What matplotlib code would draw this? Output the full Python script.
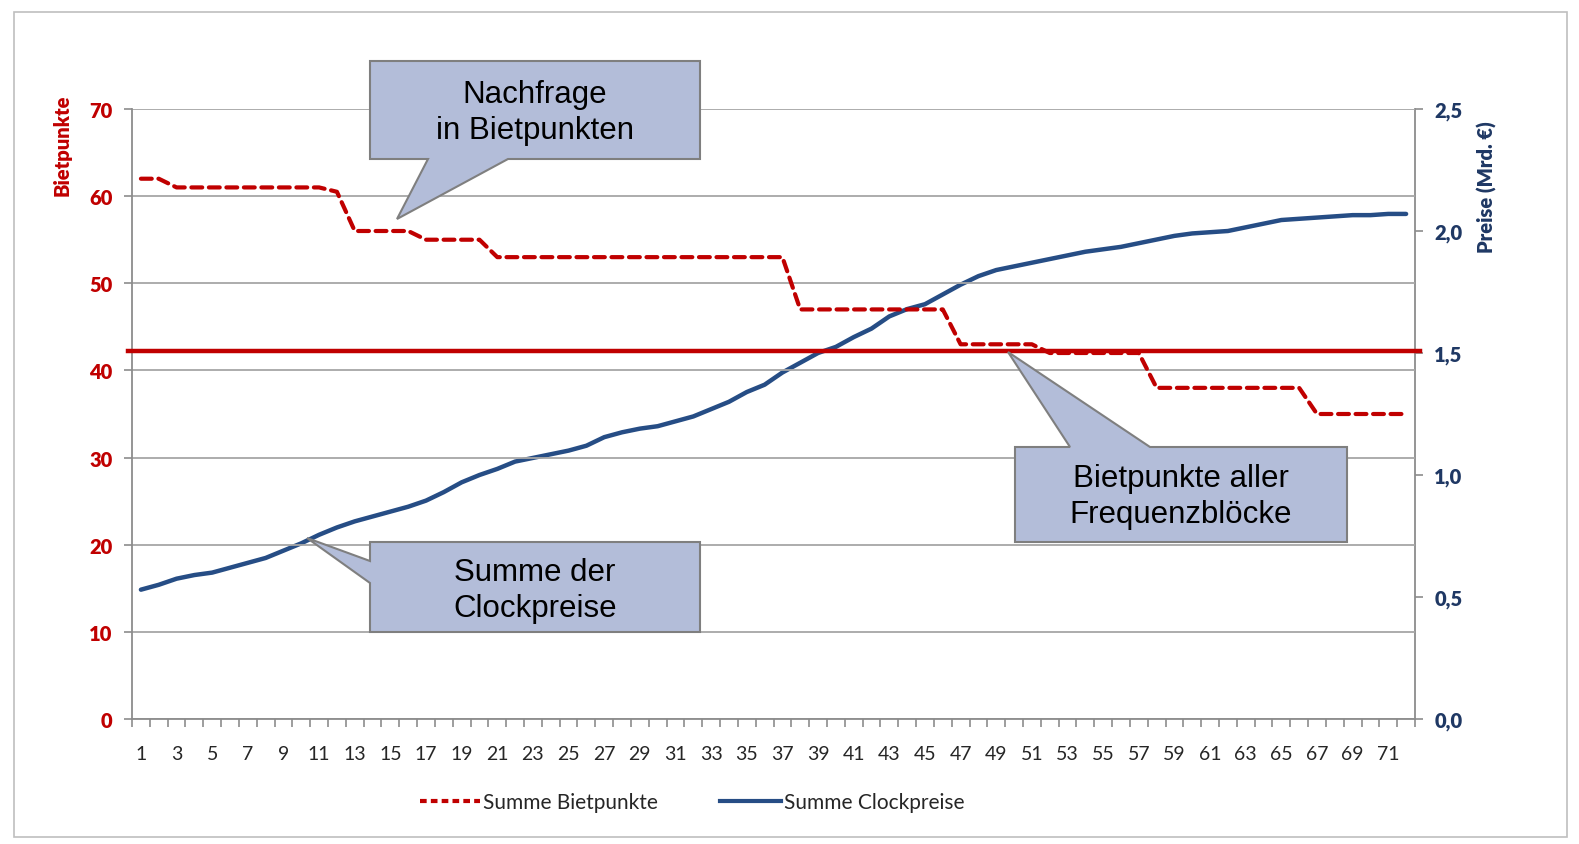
import numpy as np
import matplotlib.pyplot as plt
from matplotlib.patches import Polygon, Rectangle
from matplotlib.lines import Line2D

# Runden 1..72
runden = np.arange(1, 73)

# Summe Bietpunkte (linke Achse)
bietpunkte = [62, 62, 61, 61, 61, 61, 61, 61, 61, 61, 61, 60.5,
              56, 56, 56, 56, 55, 55, 55, 55, 53, 53, 53, 53,
              53, 53, 53, 53, 53, 53, 53, 53, 53, 53, 53, 53,
              53, 47, 47, 47, 47, 47, 47, 47, 47, 47, 43, 43,
              43, 43, 43, 42, 42, 42, 42, 42, 42, 38, 38, 38,
              38, 38, 38, 38, 38, 38, 35, 35, 35, 35, 35, 35]

# Summe Clockpreise in Mrd. Euro (rechte Achse)
clockpreise = [0.53, 0.55, 0.575, 0.59, 0.60, 0.62, 0.64, 0.66, 0.69, 0.72,
               0.755, 0.785, 0.81, 0.83, 0.85, 0.87, 0.895, 0.93, 0.97, 1.00,
               1.025, 1.055, 1.07, 1.085, 1.10, 1.12, 1.155, 1.175, 1.19, 1.20,
               1.22, 1.24, 1.27, 1.30, 1.34, 1.37, 1.42, 1.46, 1.50, 1.525,
               1.565, 1.60, 1.65, 1.68, 1.70, 1.74, 1.78, 1.815, 1.84, 1.855,
               1.87, 1.885, 1.90, 1.915, 1.925, 1.935, 1.95, 1.965, 1.98, 1.99,
               1.995, 2.00, 2.015, 2.03, 2.045, 2.05, 2.055, 2.06, 2.065, 2.065,
               2.07, 2.07]

schwelle = 42.25  # rote Linie

left_ticks = [0, 10, 20, 30, 40, 50, 60, 70]
right_ticks = [0.0, 0.5, 1.0, 1.5, 2.0, 2.5]

RED = '#C00000'
BLUE = '#264D85'
DARKBLUE = '#1F3864'
GRID = '#A6A6A6'
AX = '#8C8C8C'

plt.rcParams['font.family'] = ['Lato', 'DejaVu Sans']

W, H = 1579, 845
fig = plt.figure(figsize=(W / 100, H / 100), dpi=100)
ax = fig.add_axes([132 / W, 1 - 720 / H, (1415 - 132) / W, (720 - 110) / H])

def fx(x):
    return x / W

def fy(y):
    return 1 - y / H

# Rahmen um das Diagramm
fig.patches.append(Rectangle((fx(14), fy(838)), fx(1567) - fx(14), fy(13) - fy(838),
                             transform=fig.transFigure, fill=False,
                             edgecolor='#BFBFBF', linewidth=1.2))

ax.plot(runden, bietpunkte, color=RED, linewidth=3, dashes=(2.6, 1.6),
        dash_capstyle='round', zorder=4)
ax.axhline(schwelle, xmin=-0.003, xmax=1.004, color=RED, linewidth=3.2,
           clip_on=False, zorder=5)

ax.set_xlim(0.5, 72.5)
ax.set_ylim(0, 70)
ax.set_yticks(left_ticks)
ax.set_yticklabels([str(t) for t in left_ticks])
ax.grid(axis='y', color=GRID, linewidth=1.3)
ax.set_axisbelow(True)
ax.set_xticks(runden[::2])
ax.set_xticklabels([str(r) for r in runden[::2]], fontsize=14, color='#262626')
ax.set_xticks(np.arange(0.5, 73, 1), minor=True)
ax.tick_params(axis='x', which='major', length=0, pad=19)
ax.tick_params(axis='x', which='minor', length=6, color=AX, width=1.2)
ax.tick_params(axis='y', length=6, color=AX, width=1.2, pad=8,
               labelcolor=RED, labelsize=14.5)
for lab in ax.get_yticklabels():
    lab.set_fontweight('heavy')
for s in ['top', 'right']:
    ax.spines[s].set_visible(False)
for s in ['left', 'bottom']:
    ax.spines[s].set_color(AX)
    ax.spines[s].set_linewidth(1.3)

ax2 = ax.twinx()
ax2.plot(runden, clockpreise, color=BLUE, linewidth=3.2, solid_capstyle='round', zorder=3)
ax2.set_ylim(0, 2.5)
ax2.set_yticks(right_ticks)
ax2.set_yticklabels([f'{t:.1f}'.replace('.', ',') for t in right_ticks])
ax2.tick_params(axis='y', length=6, color=AX, width=1.2, pad=8,
                labelcolor=DARKBLUE, labelsize=14.5)
for lab in ax2.get_yticklabels():
    lab.set_fontweight('heavy')
for s in ['top', 'left', 'bottom']:
    ax2.spines[s].set_visible(False)
ax2.spines['right'].set_color(AX)
ax2.spines['right'].set_linewidth(1.3)
ax.set_zorder(ax2.get_zorder() + 1)
ax.patch.set_visible(False)

fig.text(fx(62), fy(145), 'Bietpunkte', rotation=90, color=RED, fontsize=14.5,
         fontweight='heavy', ha='center', va='center')
fig.text(fx(1487), fy(187), 'Preise (Mrd. €)', rotation=90, color=DARKBLUE,
         fontsize=14.5, fontweight='heavy', ha='center', va='center')

# Legende
handles = [Line2D([], [], color=RED, linewidth=3, dashes=(1.6, 1.0)),
           Line2D([], [], color=BLUE, linewidth=3)]
fig.legend(handles, ['Summe Bietpunkte', 'Summe Clockpreise'], loc='center',
           bbox_to_anchor=(fx(692), fy(803)), ncol=2, frameon=False,
           fontsize=15, handlelength=2.9, handletextpad=0.15, columnspacing=3.0,
           labelcolor='#262626')

# Sprechblasen
callouts = [
    ('Nachfrage\nin Bietpunkten', (535, 113),
     [(370, 62), (700, 62), (700, 160), (508, 160), (397, 220), (428, 160), (370, 160)]),
    ('Summe der\nClockpreise', (535, 591),
     [(370, 543), (700, 543), (700, 633), (370, 633), (370, 584), (307, 539), (370, 562)]),
    ('Bietpunkte aller\nFrequenzblöcke', (1181, 497),
     [(1015, 448), (1070, 448), (1008, 353), (1150, 448), (1347, 448), (1347, 543), (1015, 543)]),
]
for text, (tx, ty), pts in callouts:
    poly = Polygon([(fx(x), fy(y)) for x, y in pts], closed=True,
                   transform=fig.transFigure, facecolor='#B3BDD9',
                   edgecolor='#7F7F7F', linewidth=1.5, zorder=10)
    fig.patches.append(poly)
    fig.text(fx(tx), fy(ty), text, ha='center', va='center', fontsize=22.5,
             family='Liberation Sans', linespacing=1.3, zorder=11)

fig.savefig('out.png', dpi=100)
